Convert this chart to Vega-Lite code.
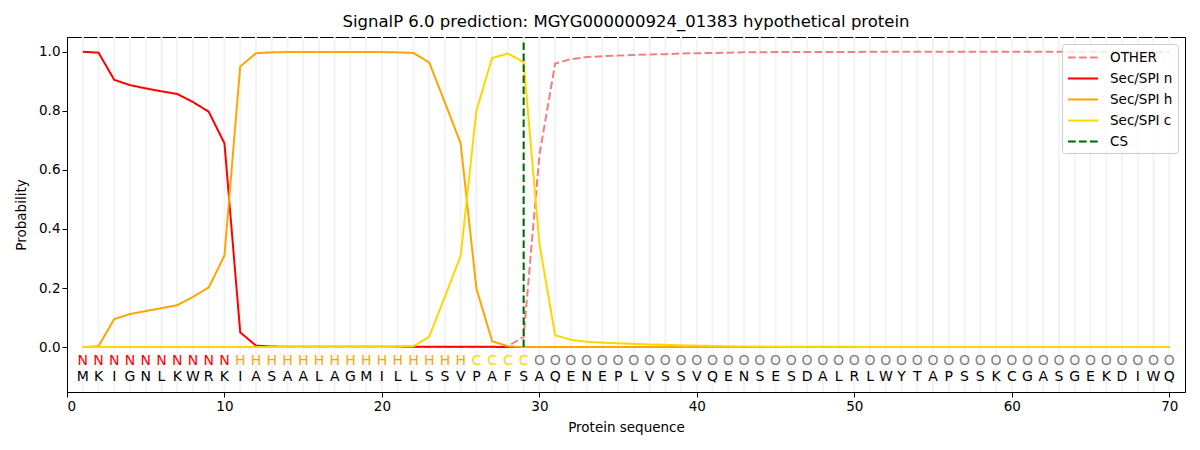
{
  "$schema": "https://vega.github.io/schema/vega-lite/v6.json",
  "autosize": {"type": "none"},
  "padding": {"left": 67, "top": 37, "right": 15, "bottom": 58},
  "width": 1118,
  "height": 355,
  "title": {"text": "SignalP 6.0 prediction: MGYG000000924_01383 hypothetical protein", "font": "DejaVu Sans", "fontSize": 16.5, "fontWeight": "normal", "color": "black", "offset": 6},
  "config": {
    "font": "DejaVu Sans",
    "view": {"stroke": "black", "strokeWidth": 1},
    "axis": {"labelFont": "DejaVu Sans", "titleFont": "DejaVu Sans", "labelFontSize": 13.5, "titleFontSize": 13.5, "titleFontWeight": "normal", "labelColor": "black", "titleColor": "black", "tickColor": "black", "domainColor": "black", "tickSize": 5, "grid": false}
  },
  "datasets": {
    "seq": [
      {"i": 1, "aa": "M", "lab": "N", "OTHER": 0, "Sec/SPI n": 1.0, "Sec/SPI h": 0.0, "Sec/SPI c": 0},
      {"i": 2, "aa": "K", "lab": "N", "OTHER": 0, "Sec/SPI n": 0.997, "Sec/SPI h": 0.003, "Sec/SPI c": 0},
      {"i": 3, "aa": "I", "lab": "N", "OTHER": 0, "Sec/SPI n": 0.905, "Sec/SPI h": 0.095, "Sec/SPI c": 0},
      {"i": 4, "aa": "G", "lab": "N", "OTHER": 0, "Sec/SPI n": 0.887, "Sec/SPI h": 0.112, "Sec/SPI c": 0},
      {"i": 5, "aa": "N", "lab": "N", "OTHER": 0, "Sec/SPI n": 0.876, "Sec/SPI h": 0.122, "Sec/SPI c": 0},
      {"i": 6, "aa": "L", "lab": "N", "OTHER": 0, "Sec/SPI n": 0.866, "Sec/SPI h": 0.132, "Sec/SPI c": 0},
      {"i": 7, "aa": "K", "lab": "N", "OTHER": 0, "Sec/SPI n": 0.857, "Sec/SPI h": 0.142, "Sec/SPI c": 0},
      {"i": 8, "aa": "W", "lab": "N", "OTHER": 0, "Sec/SPI n": 0.83, "Sec/SPI h": 0.17, "Sec/SPI c": 0},
      {"i": 9, "aa": "R", "lab": "N", "OTHER": 0, "Sec/SPI n": 0.797, "Sec/SPI h": 0.202, "Sec/SPI c": 0},
      {"i": 10, "aa": "K", "lab": "N", "OTHER": 0, "Sec/SPI n": 0.69, "Sec/SPI h": 0.31, "Sec/SPI c": 0},
      {"i": 11, "aa": "I", "lab": "H", "OTHER": 0, "Sec/SPI n": 0.05, "Sec/SPI h": 0.95, "Sec/SPI c": 0},
      {"i": 12, "aa": "A", "lab": "H", "OTHER": 0, "Sec/SPI n": 0.005, "Sec/SPI h": 0.995, "Sec/SPI c": 0},
      {"i": 13, "aa": "S", "lab": "H", "OTHER": 0, "Sec/SPI n": 0.002, "Sec/SPI h": 0.998, "Sec/SPI c": 0},
      {"i": 14, "aa": "A", "lab": "H", "OTHER": 0, "Sec/SPI n": 0.001, "Sec/SPI h": 0.999, "Sec/SPI c": 0},
      {"i": 15, "aa": "A", "lab": "H", "OTHER": 0, "Sec/SPI n": 0.001, "Sec/SPI h": 0.999, "Sec/SPI c": 0},
      {"i": 16, "aa": "L", "lab": "H", "OTHER": 0, "Sec/SPI n": 0.001, "Sec/SPI h": 0.999, "Sec/SPI c": 0},
      {"i": 17, "aa": "A", "lab": "H", "OTHER": 0, "Sec/SPI n": 0.001, "Sec/SPI h": 0.999, "Sec/SPI c": 0},
      {"i": 18, "aa": "G", "lab": "H", "OTHER": 0, "Sec/SPI n": 0.001, "Sec/SPI h": 0.999, "Sec/SPI c": 0},
      {"i": 19, "aa": "M", "lab": "H", "OTHER": 0, "Sec/SPI n": 0.001, "Sec/SPI h": 0.999, "Sec/SPI c": 0},
      {"i": 20, "aa": "I", "lab": "H", "OTHER": 0, "Sec/SPI n": 0.001, "Sec/SPI h": 0.999, "Sec/SPI c": 0},
      {"i": 21, "aa": "L", "lab": "H", "OTHER": 0, "Sec/SPI n": 0.001, "Sec/SPI h": 0.998, "Sec/SPI c": 0.001},
      {"i": 22, "aa": "L", "lab": "H", "OTHER": 0, "Sec/SPI n": 0.001, "Sec/SPI h": 0.996, "Sec/SPI c": 0.003},
      {"i": 23, "aa": "S", "lab": "H", "OTHER": 0, "Sec/SPI n": 0.001, "Sec/SPI h": 0.964, "Sec/SPI c": 0.035},
      {"i": 24, "aa": "S", "lab": "H", "OTHER": 0, "Sec/SPI n": 0.001, "Sec/SPI h": 0.828, "Sec/SPI c": 0.171},
      {"i": 25, "aa": "V", "lab": "H", "OTHER": 0, "Sec/SPI n": 0.001, "Sec/SPI h": 0.69, "Sec/SPI c": 0.309},
      {"i": 26, "aa": "P", "lab": "C", "OTHER": 0, "Sec/SPI n": 0.001, "Sec/SPI h": 0.198, "Sec/SPI c": 0.801},
      {"i": 27, "aa": "A", "lab": "C", "OTHER": 0, "Sec/SPI n": 0.001, "Sec/SPI h": 0.02, "Sec/SPI c": 0.979},
      {"i": 28, "aa": "F", "lab": "C", "OTHER": 0.003, "Sec/SPI n": 0, "Sec/SPI h": 0.003, "Sec/SPI c": 0.994},
      {"i": 29, "aa": "S", "lab": "C", "OTHER": 0.035, "Sec/SPI n": 0, "Sec/SPI h": 0, "Sec/SPI c": 0.965},
      {"i": 30, "aa": "A", "lab": "O", "OTHER": 0.65, "Sec/SPI n": 0, "Sec/SPI h": 0, "Sec/SPI c": 0.35},
      {"i": 31, "aa": "Q", "lab": "O", "OTHER": 0.96, "Sec/SPI n": 0, "Sec/SPI h": 0, "Sec/SPI c": 0.04},
      {"i": 32, "aa": "E", "lab": "O", "OTHER": 0.975, "Sec/SPI n": 0, "Sec/SPI h": 0, "Sec/SPI c": 0.025},
      {"i": 33, "aa": "N", "lab": "O", "OTHER": 0.982, "Sec/SPI n": 0, "Sec/SPI h": 0, "Sec/SPI c": 0.018},
      {"i": 34, "aa": "E", "lab": "O", "OTHER": 0.985, "Sec/SPI n": 0, "Sec/SPI h": 0, "Sec/SPI c": 0.015},
      {"i": 35, "aa": "P", "lab": "O", "OTHER": 0.987, "Sec/SPI n": 0, "Sec/SPI h": 0, "Sec/SPI c": 0.013},
      {"i": 36, "aa": "L", "lab": "O", "OTHER": 0.989, "Sec/SPI n": 0, "Sec/SPI h": 0, "Sec/SPI c": 0.011},
      {"i": 37, "aa": "V", "lab": "O", "OTHER": 0.991, "Sec/SPI n": 0, "Sec/SPI h": 0, "Sec/SPI c": 0.009},
      {"i": 38, "aa": "S", "lab": "O", "OTHER": 0.992, "Sec/SPI n": 0, "Sec/SPI h": 0, "Sec/SPI c": 0.008},
      {"i": 39, "aa": "S", "lab": "O", "OTHER": 0.994, "Sec/SPI n": 0, "Sec/SPI h": 0, "Sec/SPI c": 0.006},
      {"i": 40, "aa": "V", "lab": "O", "OTHER": 0.995, "Sec/SPI n": 0, "Sec/SPI h": 0, "Sec/SPI c": 0.005},
      {"i": 41, "aa": "Q", "lab": "O", "OTHER": 0.996, "Sec/SPI n": 0, "Sec/SPI h": 0, "Sec/SPI c": 0.004},
      {"i": 42, "aa": "E", "lab": "O", "OTHER": 0.997, "Sec/SPI n": 0, "Sec/SPI h": 0, "Sec/SPI c": 0.003},
      {"i": 43, "aa": "N", "lab": "O", "OTHER": 0.998, "Sec/SPI n": 0, "Sec/SPI h": 0, "Sec/SPI c": 0.002},
      {"i": 44, "aa": "S", "lab": "O", "OTHER": 0.998, "Sec/SPI n": 0, "Sec/SPI h": 0, "Sec/SPI c": 0.002},
      {"i": 45, "aa": "E", "lab": "O", "OTHER": 0.999, "Sec/SPI n": 0, "Sec/SPI h": 0, "Sec/SPI c": 0.001},
      {"i": 46, "aa": "S", "lab": "O", "OTHER": 0.999, "Sec/SPI n": 0, "Sec/SPI h": 0, "Sec/SPI c": 0.001},
      {"i": 47, "aa": "D", "lab": "O", "OTHER": 0.999, "Sec/SPI n": 0, "Sec/SPI h": 0, "Sec/SPI c": 0.001},
      {"i": 48, "aa": "A", "lab": "O", "OTHER": 0.999, "Sec/SPI n": 0, "Sec/SPI h": 0, "Sec/SPI c": 0.001},
      {"i": 49, "aa": "L", "lab": "O", "OTHER": 0.999, "Sec/SPI n": 0, "Sec/SPI h": 0, "Sec/SPI c": 0.001},
      {"i": 50, "aa": "R", "lab": "O", "OTHER": 0.999, "Sec/SPI n": 0, "Sec/SPI h": 0, "Sec/SPI c": 0.001},
      {"i": 51, "aa": "L", "lab": "O", "OTHER": 1.0, "Sec/SPI n": 0, "Sec/SPI h": 0, "Sec/SPI c": 0},
      {"i": 52, "aa": "W", "lab": "O", "OTHER": 1.0, "Sec/SPI n": 0, "Sec/SPI h": 0, "Sec/SPI c": 0},
      {"i": 53, "aa": "Y", "lab": "O", "OTHER": 1.0, "Sec/SPI n": 0, "Sec/SPI h": 0, "Sec/SPI c": 0},
      {"i": 54, "aa": "T", "lab": "O", "OTHER": 1.0, "Sec/SPI n": 0, "Sec/SPI h": 0, "Sec/SPI c": 0},
      {"i": 55, "aa": "A", "lab": "O", "OTHER": 1.0, "Sec/SPI n": 0, "Sec/SPI h": 0, "Sec/SPI c": 0},
      {"i": 56, "aa": "P", "lab": "O", "OTHER": 1.0, "Sec/SPI n": 0, "Sec/SPI h": 0, "Sec/SPI c": 0},
      {"i": 57, "aa": "S", "lab": "O", "OTHER": 1.0, "Sec/SPI n": 0, "Sec/SPI h": 0, "Sec/SPI c": 0},
      {"i": 58, "aa": "S", "lab": "O", "OTHER": 1.0, "Sec/SPI n": 0, "Sec/SPI h": 0, "Sec/SPI c": 0},
      {"i": 59, "aa": "K", "lab": "O", "OTHER": 1.0, "Sec/SPI n": 0, "Sec/SPI h": 0, "Sec/SPI c": 0},
      {"i": 60, "aa": "C", "lab": "O", "OTHER": 1.0, "Sec/SPI n": 0, "Sec/SPI h": 0, "Sec/SPI c": 0},
      {"i": 61, "aa": "G", "lab": "O", "OTHER": 1.0, "Sec/SPI n": 0, "Sec/SPI h": 0, "Sec/SPI c": 0},
      {"i": 62, "aa": "A", "lab": "O", "OTHER": 1.0, "Sec/SPI n": 0, "Sec/SPI h": 0, "Sec/SPI c": 0},
      {"i": 63, "aa": "S", "lab": "O", "OTHER": 1.0, "Sec/SPI n": 0, "Sec/SPI h": 0, "Sec/SPI c": 0},
      {"i": 64, "aa": "G", "lab": "O", "OTHER": 1.0, "Sec/SPI n": 0, "Sec/SPI h": 0, "Sec/SPI c": 0},
      {"i": 65, "aa": "E", "lab": "O", "OTHER": 1.0, "Sec/SPI n": 0, "Sec/SPI h": 0, "Sec/SPI c": 0},
      {"i": 66, "aa": "K", "lab": "O", "OTHER": 1.0, "Sec/SPI n": 0, "Sec/SPI h": 0, "Sec/SPI c": 0},
      {"i": 67, "aa": "D", "lab": "O", "OTHER": 1.0, "Sec/SPI n": 0, "Sec/SPI h": 0, "Sec/SPI c": 0},
      {"i": 68, "aa": "I", "lab": "O", "OTHER": 1.0, "Sec/SPI n": 0, "Sec/SPI h": 0, "Sec/SPI c": 0},
      {"i": 69, "aa": "W", "lab": "O", "OTHER": 1.0, "Sec/SPI n": 0, "Sec/SPI h": 0, "Sec/SPI c": 0},
      {"i": 70, "aa": "Q", "lab": "O", "OTHER": 1.0, "Sec/SPI n": 0, "Sec/SPI h": 0, "Sec/SPI c": 0}
    ],
    "cs": [{"pos": 29, "series": "CS"}]
  },
  "data": {"name": "seq"},
  "layer": [
    {
      "mark": {"type": "rule", "color": "#f3f3f3", "strokeWidth": 2},
      "encoding": {
        "x": {"field": "i", "type": "quantitative"}
      }
    },
    {
      "transform": [{"fold": ["OTHER", "Sec/SPI n", "Sec/SPI h", "Sec/SPI c"], "as": ["series", "p"]}],
      "mark": {"type": "line", "strokeWidth": 2},
      "encoding": {
        "x": {"field": "i", "type": "quantitative"},
        "y": {"field": "p", "type": "quantitative"},
        "color": {"field": "series", "type": "nominal"},
        "strokeDash": {"field": "series", "type": "nominal"}
      }
    },
    {
      "data": {"name": "cs"},
      "mark": {"type": "rule", "strokeWidth": 2},
      "encoding": {
        "x": {"field": "pos", "type": "quantitative"},
        "y": {"datum": 0},
        "y2": {"datum": 1.035},
        "color": {"field": "series", "type": "nominal"},
        "strokeDash": {"field": "series", "type": "nominal"}
      }
    },
    {
      "mark": {"type": "text", "fontSize": 14, "font": "DejaVu Sans", "baseline": "middle", "align": "center"},
      "encoding": {
        "x": {"field": "i", "type": "quantitative"},
        "y": {"datum": -0.047},
        "text": {"field": "lab"},
        "color": {
          "condition": [
            {"test": "datum.lab === 'N'", "value": "red"},
            {"test": "datum.lab === 'H'", "value": "orange"},
            {"test": "datum.lab === 'C'", "value": "gold"}
          ],
          "value": "grey"
        }
      }
    },
    {
      "mark": {"type": "text", "fontSize": 14, "font": "DejaVu Sans", "baseline": "middle", "align": "center", "color": "black"},
      "encoding": {
        "x": {"field": "i", "type": "quantitative"},
        "y": {"datum": -0.1},
        "text": {"field": "aa"}
      }
    }
  ],
  "encoding": {
    "x": {"type": "quantitative", "scale": {"domain": [0, 71], "nice": false, "zero": false}, "axis": {"title": "Protein sequence", "values": [0, 10, 20, 30, 40, 50, 60, 70], "titlePadding": 8}},
    "y": {"type": "quantitative", "scale": {"domain": [-0.152, 1.05], "nice": false, "zero": false}, "axis": {"title": "Probability", "values": [0, 0.2, 0.4, 0.6, 0.8, 1.0], "format": ".1f", "titlePadding": 10}},
    "color": {
      "scale": {"domain": ["OTHER", "Sec/SPI n", "Sec/SPI h", "Sec/SPI c", "CS"], "range": ["#f08080", "red", "orange", "gold", "#006400"]},
      "legend": {"title": null, "orient": "top-right", "offset": 7, "symbolType": "M-1,0H3", "symbolSize": 225, "symbolStrokeWidth": 2, "labelFontSize": 13.5, "labelFont": "DejaVu Sans", "labelColor": "black", "labelOffset": 26, "rowPadding": 6, "padding": 5, "fillColor": "rgba(255,255,255,0.8)", "strokeColor": "#cccccc", "cornerRadius": 3}
    },
    "strokeDash": {
      "scale": {"domain": ["OTHER", "Sec/SPI n", "Sec/SPI h", "Sec/SPI c", "CS"], "range": [[7.7, 3.3], [1, 0], [1, 0], [1, 0], [7.7, 3.3]]},
      "legend": {"title": null}
    }
  }
}
